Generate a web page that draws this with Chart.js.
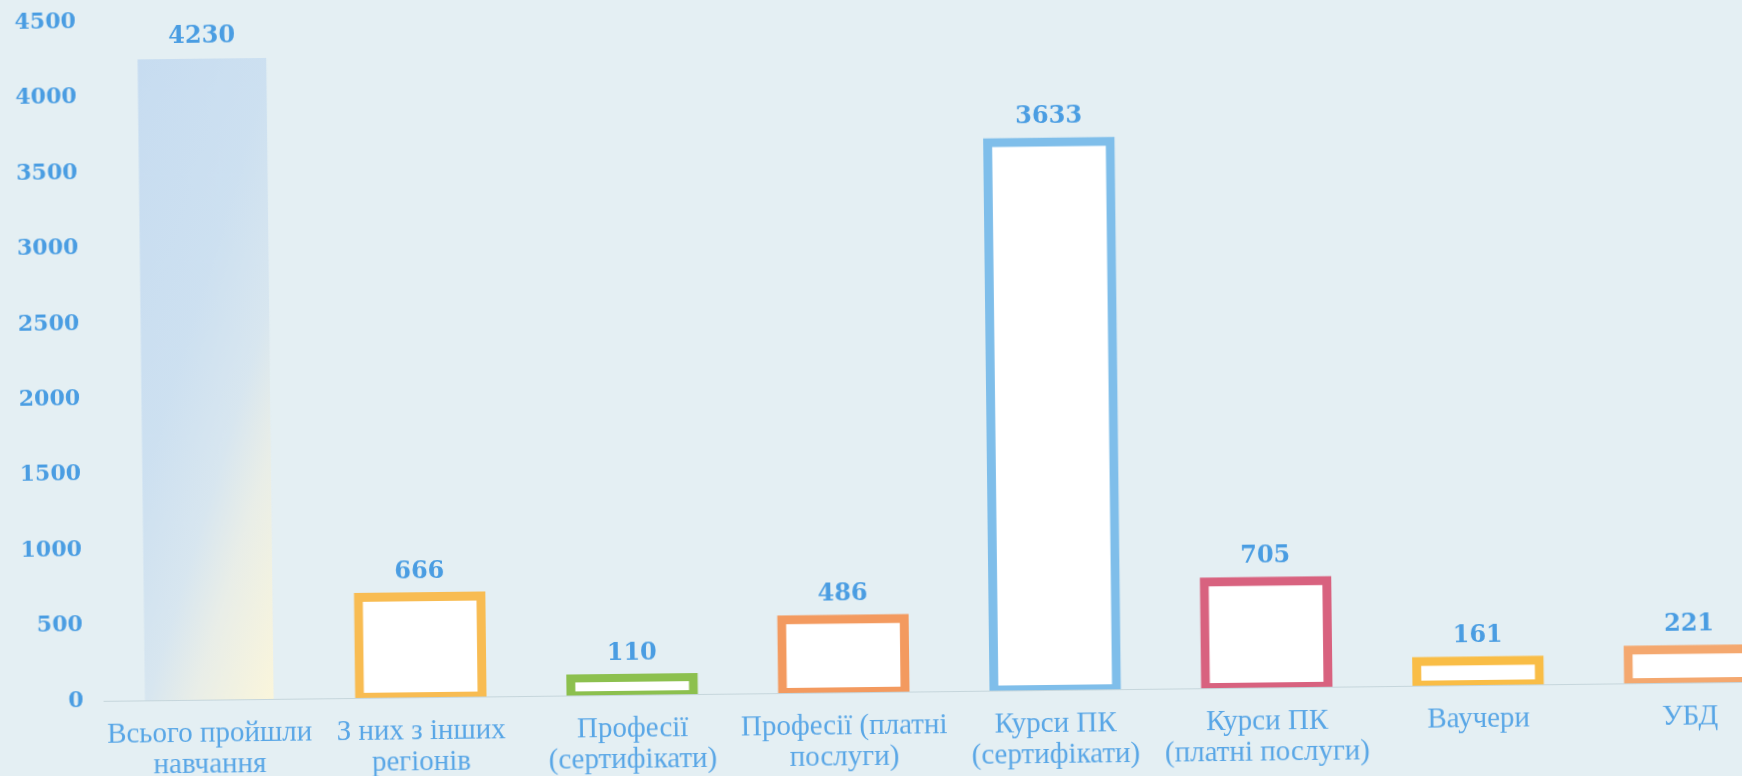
<!DOCTYPE html>
<html>
<head>
<meta charset="utf-8">
<script src="https://cdn.jsdelivr.net/npm/chart.js@4.4.1/dist/chart.umd.min.js"></script>
<style>
  html, body { margin: 0; padding: 0; width: 1742px; height: 776px; overflow: hidden; background: #e4eff3; }
  #wrap { position: absolute; left: 0; top: 0; width: 1800px; height: 776px; transform: rotate(-0.66deg); transform-origin: 871px 388px; }
  canvas { display: block; }
</style>
</head>
<body>
<div id="wrap"><canvas id="c" width="1800" height="776"></canvas></div>
<script>
const categories = [
  ['Всього пройшли', 'навчання'],
  ['З них з інших', 'регіонів'],
  ['Професії', '(сертифікати)'],
  ['Професії (платні', 'послуги)'],
  ['Курси ПК', '(сертифікати)'],
  ['Курси ПК', '(платні послуги)'],
  ['Ваучери'],
  ['УБД']
];
const values = [4230, 666, 110, 486, 3633, 705, 161, 221];
const yMin = 0;
const yMax = 4500;
const yStep = 500;

const barColors = ['#c9def1', '#f8bc52', '#8cc04e', '#f39a5f', '#7fbeea', '#d8627f', '#f9bd46', '#f4a86f'];

const valueLabels = {
  id: 'valueLabels',
  afterDatasetsDraw(chart) {
    const ctx = chart.ctx;
    const meta = chart.getDatasetMeta(0);
    ctx.save();
    ctx.font = 'bold 24px "DejaVu Serif"';
    ctx.fillStyle = '#4a9de2';
    ctx.textAlign = 'center';
    ctx.textBaseline = 'middle';
    meta.data.forEach((bar, i) => {
      ctx.fillText(String(values[i]), bar.x, bar.y - 25);
    });
    ctx.restore();
  }
};

function firstBarFill(context) {
  const chart = context.chart;
  const xs = chart.scales.x, ys = chart.scales.y;
  if (!xs || !ys) return barColors[0];
  const cx = xs.getPixelForValue(0);
  const w = (xs.width / categories.length) * 0.58 + 6;
  const top = ys.getPixelForValue(values[0]);
  const bot = ys.getPixelForValue(0);
  if (![cx, w, top, bot].every(Number.isFinite)) return barColors[0];
  const h = bot - top;
  const dx = 400, dy = 128;
  const len = Math.hypot(dx, dy);
  const ux = dx / len, uy = dy / len;
  const proj = w * ux + h * uy;
  const x0 = cx - w / 2, y0 = top;
  const g = chart.ctx.createLinearGradient(x0, y0, x0 + proj * ux, y0 + proj * uy);
  g.addColorStop(0, 'rgba(197,219,240,0.97)');
  g.addColorStop(0.4, 'rgba(203,223,240,0.97)');
  g.addColorStop(0.62, 'rgba(214,229,239,0.97)');
  g.addColorStop(0.76, 'rgba(232,237,231,0.97)');
  g.addColorStop(1, 'rgba(250,245,218,0.97)');
  return g;
}

new Chart(document.getElementById('c'), {
  type: 'bar',
  data: {
    labels: categories,
    datasets: [{
      data: values,
      backgroundColor: (ctx) => ctx.dataIndex === 0 ? firstBarFill(ctx) : '#ffffff',
      borderColor: barColors,
      borderWidth: (ctx) => ctx.dataIndex === 0 ? 0 : 9,
      inflateAmount: (ctx) => ctx.dataIndex === 0 ? 3 : 4.5,
      borderSkipped: false,
      barPercentage: 0.58,
      categoryPercentage: 1.0
    }]
  },
  options: {
    responsive: false,
    animation: false,
    layout: { padding: { left: 0, right: 8, top: 0, bottom: 0 } },
    plugins: { legend: { display: false }, tooltip: { enabled: false } },
    scales: {
      x: {
        afterFit: (scale) => { scale.height = 84; },
        grid: { display: false, drawTicks: false },
        border: { display: false },
        ticks: {
          color: '#58a6e6',
          font: { family: '"Liberation Serif"', size: 29, lineHeight: 1.07 },
          padding: 19,
          maxRotation: 0,
          autoSkip: false
        }
      },
      y: {
        min: yMin,
        max: yMax,
        afterFit: (scale) => { scale.width = 100; },
        grid: {
          drawTicks: true,
          tickLength: 20,
          tickColor: 'rgba(0,0,0,0)',
          color: (ctx) => ctx.tick && ctx.tick.value === 0 ? 'rgba(190,208,214,0.8)' : 'rgba(0,0,0,0)'
        },
        border: { display: false },
        ticks: {
          stepSize: yStep,
          color: '#4a9de2',
          font: { family: '"DejaVu Serif"', size: 22, weight: 'bold' },
          padding: 0,
          callback: (v) => String(v)
        }
      }
    }
  },
  plugins: [valueLabels]
});
</script>
</body>
</html>
